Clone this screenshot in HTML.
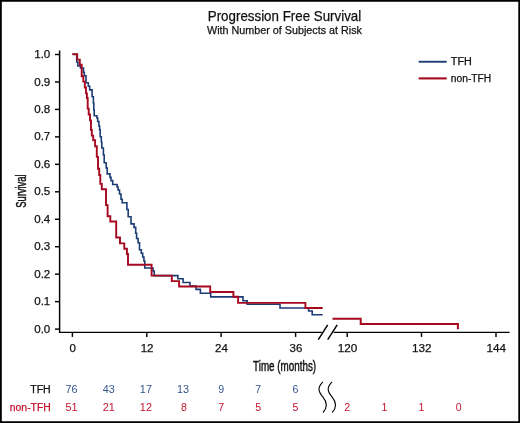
<!DOCTYPE html>
<html><head><meta charset="utf-8"><title>Progression Free Survival</title>
<style>html,body{margin:0;padding:0;background:#fff}body{width:520px;height:423px;overflow:hidden}</style></head>
<body>
<svg width="520" height="423" viewBox="0 0 520 423" style="display:block;font-family:'Liberation Sans',sans-serif">
<style>text{stroke-width:0.25px;paint-order:stroke}</style>
<rect x="0" y="0" width="520" height="423" fill="#fff"/>
<path d="M0,0H520V423H0ZM1.8,1.7V421.2H518.3V1.7Z" fill="#000" fill-rule="evenodd"/>
<text x="284.5" y="20.7" font-size="14.4" text-anchor="middle" fill="#111" stroke="#111" textLength="153.5" lengthAdjust="spacingAndGlyphs">Progression Free Survival</text>
<text x="284.5" y="33.7" font-size="11.6" text-anchor="middle" fill="#111" stroke="#111" textLength="155" lengthAdjust="spacingAndGlyphs">With Number of Subjects at Risk</text>
<g stroke="#000" stroke-width="1.45" fill="none">
<path d="M59.6,50.6V332.35H321.8"/>
<path d="M333.6,332.35H509.6"/>
<path d="M55,54.50H59.6"/>
<path d="M55,81.96H59.6"/>
<path d="M55,109.42H59.6"/>
<path d="M55,136.88H59.6"/>
<path d="M55,164.34H59.6"/>
<path d="M55,191.80H59.6"/>
<path d="M55,219.26H59.6"/>
<path d="M55,246.72H59.6"/>
<path d="M55,274.18H59.6"/>
<path d="M55,301.64H59.6"/>
<path d="M55,329.10H59.6"/>
<path d="M72.4,332.35V336.9"/>
<path d="M146.8,332.35V336.9"/>
<path d="M221.1,332.35V336.9"/>
<path d="M295.6,332.35V336.9"/>
<path d="M347.2,332.35V336.9"/>
<path d="M421.5,332.35V336.9"/>
<path d="M496,332.35V336.9"/>
<path d="M318.3,339.6L327.7,324.8M327.7,339.6L337.2,324.8"/>
</g>
<text x="50.3" y="58.10" font-size="11.1" text-anchor="end" fill="#111" stroke="#111" textLength="16.1" lengthAdjust="spacingAndGlyphs">1.0</text>
<text x="50.3" y="85.56" font-size="11.1" text-anchor="end" fill="#111" stroke="#111" textLength="16.1" lengthAdjust="spacingAndGlyphs">0.9</text>
<text x="50.3" y="113.02" font-size="11.1" text-anchor="end" fill="#111" stroke="#111" textLength="16.1" lengthAdjust="spacingAndGlyphs">0.8</text>
<text x="50.3" y="140.48" font-size="11.1" text-anchor="end" fill="#111" stroke="#111" textLength="16.1" lengthAdjust="spacingAndGlyphs">0.7</text>
<text x="50.3" y="167.94" font-size="11.1" text-anchor="end" fill="#111" stroke="#111" textLength="16.1" lengthAdjust="spacingAndGlyphs">0.6</text>
<text x="50.3" y="195.40" font-size="11.1" text-anchor="end" fill="#111" stroke="#111" textLength="16.1" lengthAdjust="spacingAndGlyphs">0.5</text>
<text x="50.3" y="222.86" font-size="11.1" text-anchor="end" fill="#111" stroke="#111" textLength="16.1" lengthAdjust="spacingAndGlyphs">0.4</text>
<text x="50.3" y="250.32" font-size="11.1" text-anchor="end" fill="#111" stroke="#111" textLength="16.1" lengthAdjust="spacingAndGlyphs">0.3</text>
<text x="50.3" y="277.78" font-size="11.1" text-anchor="end" fill="#111" stroke="#111" textLength="16.1" lengthAdjust="spacingAndGlyphs">0.2</text>
<text x="50.3" y="305.24" font-size="11.1" text-anchor="end" fill="#111" stroke="#111" textLength="16.1" lengthAdjust="spacingAndGlyphs">0.1</text>
<text x="50.3" y="332.70" font-size="11.1" text-anchor="end" fill="#111" stroke="#111" textLength="16.1" lengthAdjust="spacingAndGlyphs">0.0</text>
<text x="72.7" y="351.6" font-size="11.3" text-anchor="middle" fill="#111" stroke="#111" textLength="6.4" lengthAdjust="spacingAndGlyphs">0</text>
<text x="147.10000000000002" y="351.6" font-size="11.3" text-anchor="middle" fill="#111" stroke="#111" textLength="12.8" lengthAdjust="spacingAndGlyphs">12</text>
<text x="221.4" y="351.6" font-size="11.3" text-anchor="middle" fill="#111" stroke="#111" textLength="12.8" lengthAdjust="spacingAndGlyphs">24</text>
<text x="295.90000000000003" y="351.6" font-size="11.3" text-anchor="middle" fill="#111" stroke="#111" textLength="12.8" lengthAdjust="spacingAndGlyphs">36</text>
<text x="347.5" y="351.6" font-size="11.3" text-anchor="middle" fill="#111" stroke="#111" textLength="19.6" lengthAdjust="spacingAndGlyphs">120</text>
<text x="421.8" y="351.6" font-size="11.3" text-anchor="middle" fill="#111" stroke="#111" textLength="19.6" lengthAdjust="spacingAndGlyphs">132</text>
<text x="496.3" y="351.6" font-size="11.3" text-anchor="middle" fill="#111" stroke="#111" textLength="19.6" lengthAdjust="spacingAndGlyphs">144</text>
<text x="284.6" y="370.8" font-size="14.4" text-anchor="middle" fill="#111" stroke="#111" style="stroke-width:0.45px" textLength="63" lengthAdjust="spacingAndGlyphs">Time (months)</text>
<text transform="translate(26,191.1) rotate(-90)" font-size="14" text-anchor="middle" fill="#111" stroke="#111" style="stroke-width:0.45px" textLength="33.5" lengthAdjust="spacingAndGlyphs">Survival</text>
<path d="M72.4,54.3H76.7V62H77.8V66H80.5V68H83.5V72.4H84.3V75.7H86V82.8H88.3V86.3H89.7V89.9H92.1V96.8H93.4V103H93.8V110H94.2V115.7H96.9V118H97.7V121.5H98.9V126H99.6V129.7H100.2V136.8H101.3V142H101.8V148H103.4V155H104.2V162.8H106.2V168H107.2V173.9H110V177.4H111V180.6H112.7V184.5H117.1V187H118.1V190H119.5V194H121V199.2H122.2V202.8H126.9V209.5H128.2V216.8H131V223.9H134V227.4H135.7V233.3H136.6V238.5H138.1V242.8H139.5V249.8H141.3V253.3H142.7V257H143.9V261H144.8V268H153V271H154.2V275.6H177.9V278.7H183.1V282.5H190V286H196V289.4H200.4V293.2H210.7V296.9H243V300.8H247.2V304.2H280V308H308.6V311H312.2V314.8H322.7" fill="none" stroke="#1c3c76" stroke-width="1.6"/>
<path d="M72.4,54.3H77.2V59.6H79.8V64.7H81.7V76.3H83.3V81.6H84.8V87.5H86V93.4H86.9V98H87.7V108.6H88.7V114.5H90V120.4H91V130H91.8V135.6H93.2V140.3H95.1V146.3H96.8V156.9H98V168.7H99.2V175H100.3V183.9H101.8V189.2H106V205.1H107.6V216.2H110.3V221.5H116.2V237.5H120V243.4H124.3V248.7H126.9V254H128V264.8H151.6V275.6H171.8V281.1H179.1V286.5H210.2V292H233.4V296.8H238.1V302.9H305.4V308H322.7" fill="none" stroke="#a5081f" stroke-width="1.9"/>
<path d="M332.5,318.8H360.7V324.1H457.9V329.3" fill="none" stroke="#a5081f" stroke-width="2"/>
<path d="M418.7,61.75H446.7" stroke="#1c3c76" stroke-width="1.9"/>
<path d="M418.7,78.4H446.7" stroke="#a5081f" stroke-width="2.1"/>
<text x="450.8" y="64.6" font-size="10" fill="#111" stroke="#111" textLength="21" lengthAdjust="spacingAndGlyphs">TFH</text>
<text x="450.8" y="81.7" font-size="10" fill="#111" stroke="#111" textLength="40.4" lengthAdjust="spacingAndGlyphs">non-TFH</text>
<text x="50.8" y="392.5" font-size="10" text-anchor="end" fill="#111" stroke="#111" textLength="20.6" lengthAdjust="spacingAndGlyphs">TFH</text>
<text x="50.8" y="410.5" font-size="10" text-anchor="end" fill="#c4122f" stroke="#c4122f" textLength="41" lengthAdjust="spacingAndGlyphs">non-TFH</text>
<text x="71.6" y="392.5" font-size="10.2" text-anchor="middle" fill="#34558f" stroke="none" textLength="12.1" lengthAdjust="spacingAndGlyphs">76</text>
<text x="108.8" y="392.5" font-size="10.2" text-anchor="middle" fill="#34558f" stroke="none" textLength="12.1" lengthAdjust="spacingAndGlyphs">43</text>
<text x="145.9" y="392.5" font-size="10.2" text-anchor="middle" fill="#34558f" stroke="none" textLength="12.1" lengthAdjust="spacingAndGlyphs">17</text>
<text x="183.1" y="392.5" font-size="10.2" text-anchor="middle" fill="#34558f" stroke="none" textLength="12.1" lengthAdjust="spacingAndGlyphs">13</text>
<text x="221.1" y="392.5" font-size="10.2" text-anchor="middle" fill="#34558f" stroke="none" textLength="5.9" lengthAdjust="spacingAndGlyphs">9</text>
<text x="258.3" y="392.5" font-size="10.2" text-anchor="middle" fill="#34558f" stroke="none" textLength="5.9" lengthAdjust="spacingAndGlyphs">7</text>
<text x="295.4" y="392.5" font-size="10.2" text-anchor="middle" fill="#34558f" stroke="none" textLength="5.9" lengthAdjust="spacingAndGlyphs">6</text>
<text x="71.6" y="410.5" font-size="10.2" text-anchor="middle" fill="#c4122f" stroke="none" textLength="12.1" lengthAdjust="spacingAndGlyphs">51</text>
<text x="108.8" y="410.5" font-size="10.2" text-anchor="middle" fill="#c4122f" stroke="none" textLength="12.1" lengthAdjust="spacingAndGlyphs">21</text>
<text x="145.9" y="410.5" font-size="10.2" text-anchor="middle" fill="#c4122f" stroke="none" textLength="12.1" lengthAdjust="spacingAndGlyphs">12</text>
<text x="183.9" y="410.5" font-size="10.2" text-anchor="middle" fill="#c4122f" stroke="none" textLength="5.9" lengthAdjust="spacingAndGlyphs">8</text>
<text x="221.1" y="410.5" font-size="10.2" text-anchor="middle" fill="#c4122f" stroke="none" textLength="5.9" lengthAdjust="spacingAndGlyphs">7</text>
<text x="258.3" y="410.5" font-size="10.2" text-anchor="middle" fill="#c4122f" stroke="none" textLength="5.9" lengthAdjust="spacingAndGlyphs">5</text>
<text x="295.4" y="410.5" font-size="10.2" text-anchor="middle" fill="#c4122f" stroke="none" textLength="5.9" lengthAdjust="spacingAndGlyphs">5</text>
<text x="347.2" y="410.5" font-size="10.2" text-anchor="middle" fill="#c4122f" stroke="none" textLength="5.9" lengthAdjust="spacingAndGlyphs">2</text>
<text x="384.4" y="410.5" font-size="10.2" text-anchor="middle" fill="#c4122f" stroke="none" textLength="5.9" lengthAdjust="spacingAndGlyphs">1</text>
<text x="421.5" y="410.5" font-size="10.2" text-anchor="middle" fill="#c4122f" stroke="none" textLength="5.9" lengthAdjust="spacingAndGlyphs">1</text>
<text x="458.7" y="410.5" font-size="10.2" text-anchor="middle" fill="#c4122f" stroke="none" textLength="5.9" lengthAdjust="spacingAndGlyphs">0</text>
<path d="M322.9,381.8C316.6,388 318.8,392 323,397.2C327.3,402.5 327.3,408 323,412.5" fill="none" stroke="#000" stroke-width="1.1"/>
<path d="M332.09999999999997,381.8C325.8,388 328.0,392 332.2,397.2C336.5,402.5 336.5,408 332.2,412.5" fill="none" stroke="#000" stroke-width="1.1"/>
</svg>
</body></html>
